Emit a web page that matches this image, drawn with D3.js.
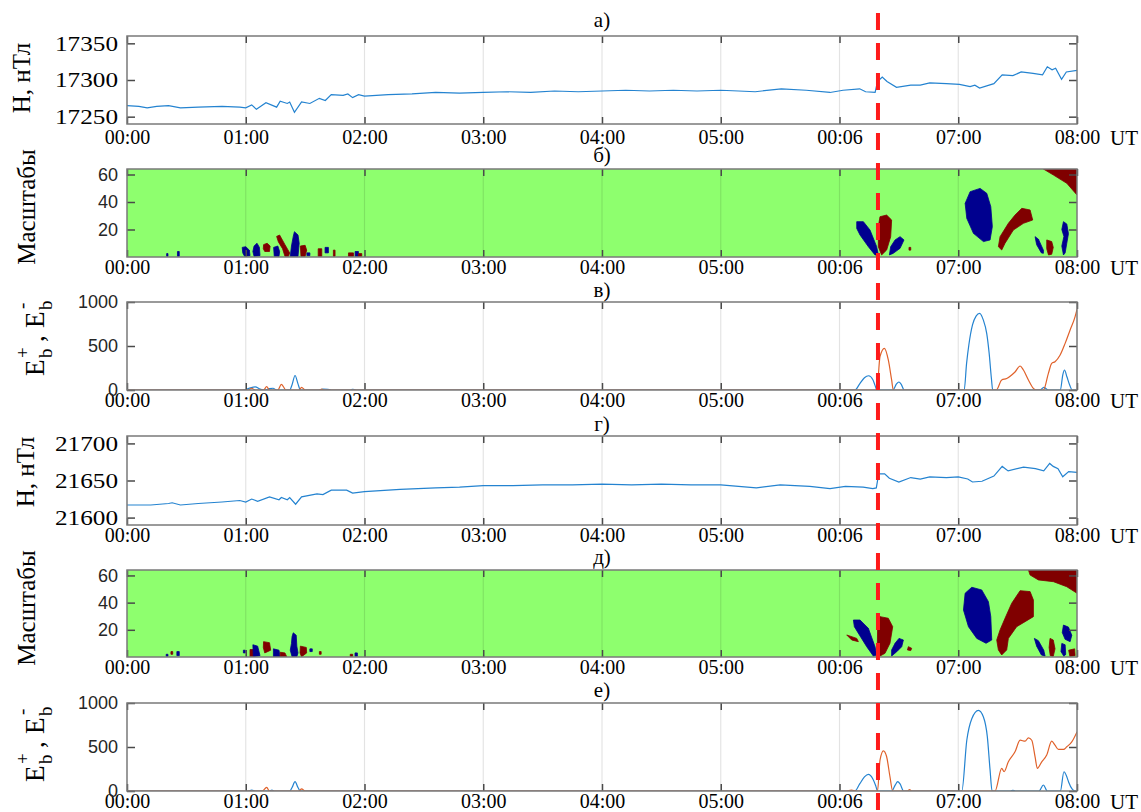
<!DOCTYPE html>
<html>
<head>
<meta charset="utf-8">
<script src="https://cdn.jsdelivr.net/npm/d3@7"></script>
<style>
  body { margin: 0; background: #fff; }
  svg { display: block; }
</style>
</head>
<body>
<svg id="chart" width="1141" height="812"></svg>
<script>
// ---- data ----
const hourTicks = [0, 1, 2, 3, 4, 5, 6, 7, 8];
const hourLabels = ["00:00", "01:00", "02:00", "03:00", "04:00", "05:00", "00:06", "07:00", "08:00"];
const panelTitles = ["а)", "б)", "в)", "г)", "д)", "е)"];
const eventTime = 6.324;

// H, station 1 (panel а)
const hA_t = [0, 0.1, 0.17, 0.25, 0.35, 0.45, 0.6, 0.8, 0.95, 1.0, 1.05, 1.09, 1.17, 1.26, 1.29, 1.35, 1.37, 1.41, 1.47, 1.54, 1.62, 1.67, 1.72, 1.82, 1.86, 1.9, 1.95, 2.0, 2.2, 2.4, 2.6, 2.8, 3.0, 3.2, 3.4, 3.6, 3.8, 4.0, 4.2, 4.4, 4.6, 4.8, 5.0, 5.15, 5.29, 5.51, 5.72, 5.92, 6.03, 6.17, 6.22, 6.3, 6.32, 6.36, 6.4, 6.48, 6.6, 6.68, 6.76, 6.9, 7.01, 7.1, 7.14, 7.18, 7.3, 7.37, 7.46, 7.53, 7.63, 7.71, 7.75, 7.79, 7.82, 7.87, 7.91, 8.0];
const hA_v = [17265, 17264, 17262, 17264, 17265, 17262, 17263, 17264, 17263, 17262, 17266, 17260, 17269, 17263, 17271, 17268, 17270, 17256, 17270, 17268, 17275, 17272, 17280, 17279, 17281, 17276, 17280, 17278, 17280, 17281, 17283, 17282, 17283, 17284, 17283, 17285, 17284, 17285, 17286, 17285, 17286, 17285, 17286, 17285, 17284, 17288, 17286, 17283, 17286, 17288, 17284, 17283, 17298, 17304, 17298, 17290, 17293, 17293, 17296, 17295, 17294, 17291, 17293, 17289, 17295, 17307, 17306, 17311, 17309, 17307, 17318, 17314, 17316, 17301, 17311, 17313];

// H, station 2 (panel г)
const hD_t = [0, 0.2, 0.35, 0.38, 0.45, 0.6, 0.8, 0.95, 1.0, 1.05, 1.1, 1.2, 1.28, 1.3, 1.35, 1.37, 1.42, 1.47, 1.6, 1.65, 1.72, 1.85, 1.9, 2.0, 2.3, 2.6, 2.8, 3.0, 3.25, 3.5, 3.75, 4.0, 4.25, 4.5, 4.75, 5.0, 5.3, 5.5, 5.75, 5.92, 6.05, 6.2, 6.28, 6.31, 6.33, 6.38, 6.42, 6.5, 6.6, 6.68, 6.76, 6.9, 7.0, 7.08, 7.12, 7.2, 7.3, 7.37, 7.42, 7.55, 7.65, 7.72, 7.77, 7.8, 7.84, 7.88, 7.93, 8.0];
const hD_v = [21617, 21617, 21619, 21620, 21617, 21619, 21621, 21623, 21621, 21625, 21622, 21628, 21624, 21627, 21624, 21627, 21618, 21628, 21632, 21631, 21637, 21637, 21633, 21635, 21638, 21640, 21641, 21643, 21643, 21644, 21644, 21645, 21644, 21645, 21644, 21644, 21640, 21644, 21642, 21639, 21642, 21641, 21639, 21640, 21659, 21659, 21653, 21648, 21654, 21652, 21655, 21654, 21655, 21652, 21648, 21649, 21656, 21669, 21663, 21668, 21666, 21663, 21673, 21669, 21666, 21655, 21662, 21661];

// E_b+ / E_b- , panel в  ([hour, value])
const ebPlusC = [[0, 0], [0.97, 0], [1.0, 5], [1.04, 25], [1.08, 35], [1.12, 10], [1.16, 0], [1.2, 15], [1.23, 20], [1.26, 0], [1.37, 0], [1.39, 60], [1.415, 165], [1.44, 70], [1.46, 0], [1.62, 0], [1.65, 10], [1.69, 8], [1.72, 0], [1.88, 0], [1.9, 8], [1.93, 0], [6.13, 0], [6.17, 70], [6.21, 140], [6.245, 162], [6.28, 120], [6.3, 50], [6.315, 0], [6.45, 0], [6.48, 70], [6.5, 91], [6.52, 65], [6.545, 0], [7.05, 0], [7.07, 300], [7.09, 520], [7.12, 740], [7.15, 840], [7.18, 871], [7.21, 800], [7.24, 640], [7.26, 420], [7.28, 120], [7.29, 0], [7.69, 0], [7.72, 30], [7.76, 0], [7.86, 0], [7.88, 170], [7.895, 227], [7.915, 150], [7.94, 50], [7.96, 0], [8, 0]];
const ebMinusC = [[0, 0], [1.02, 0], [1.05, 20], [1.08, 0], [1.15, 0], [1.176, 38], [1.2, 0], [1.27, 0], [1.3, 64], [1.34, 0], [1.45, 0], [1.47, 30], [1.5, 0], [1.62, 0], [1.64, 10], [1.66, 0], [6.315, 0], [6.341, 379], [6.378, 473], [6.411, 341], [6.439, 114], [6.453, 0], [7.32, 0], [7.366, 114], [7.408, 130], [7.45, 170], [7.478, 205], [7.521, 273], [7.549, 227], [7.591, 114], [7.633, 19], [7.66, 0], [7.717, 0], [7.759, 189], [7.787, 303], [7.815, 322], [7.858, 398], [7.9, 530], [7.942, 682], [7.984, 833], [8.0, 917]];

// E_b+ / E_b- , panel е
const ebPlusF = [[0, 0], [1.02, 0], [1.05, 10], [1.08, 0], [1.2, 0], [1.22, 10], [1.24, 0], [1.37, 0], [1.39, 40], [1.415, 106], [1.44, 40], [1.46, 0], [6.13, 0], [6.17, 80], [6.21, 160], [6.243, 189], [6.28, 140], [6.305, 60], [6.32, 0], [6.44, 0], [6.47, 70], [6.49, 106], [6.51, 80], [6.54, 0], [7.03, 0], [7.072, 577], [7.114, 822], [7.17, 917], [7.212, 841], [7.245, 615], [7.268, 238], [7.285, 0], [7.44, 0], [7.46, 8], [7.48, 0], [7.68, 0], [7.717, 68], [7.75, 0], [7.86, 0], [7.89, 219], [7.914, 162], [7.93, 100], [7.96, 20], [7.984, 0], [8, 0]];
const ebMinusF = [[0, 0], [1.14, 0], [1.176, 42], [1.2, 0], [1.45, 0], [1.47, 25], [1.5, 0], [6.06, 0], [6.1, 10], [6.14, 0], [6.32, 0], [6.341, 351], [6.37, 457], [6.397, 389], [6.425, 162], [6.448, 0], [6.57, 0], [6.59, 15], [6.61, 0], [7.31, 0], [7.366, 257], [7.386, 219], [7.422, 332], [7.478, 445], [7.521, 577], [7.563, 566], [7.591, 604], [7.619, 577], [7.647, 389], [7.666, 257], [7.703, 332], [7.745, 408], [7.787, 566], [7.815, 521], [7.844, 472], [7.886, 472], [7.914, 502], [7.956, 558], [8.0, 672]];

// scalogram sign regions ([hour, scale]); c = +1 red, -1 blue, rest is 0 (green)
const scalogramB = [
  { c: -1, p: [[0.334, 2.5], [0.345, 2.5], [0.345, 0.5], [0.334, 0.5]] },
  { c: -1, p: [[0.425, 4], [0.44, 4], [0.44, 0.5], [0.425, 0.5]] },
  { c: -1, p: [[0.97, 7], [1.0, 7.5], [1.03, 5], [1.036, 1], [0.99, 0.5], [0.975, 3]] },
  { c: -1, p: [[1.07, 8], [1.095, 10], [1.115, 7], [1.12, 1], [1.07, 0.5], [1.06, 4]] },
  { c: 1, p: [[1.15, 9], [1.18, 10], [1.205, 8], [1.2, 4], [1.16, 4], [1.148, 6]] },
  { c: -1, p: [[1.235, 7], [1.27, 8], [1.285, 4], [1.28, 0.5], [1.24, 0.5]] },
  { c: 1, p: [[1.26, 15], [1.285, 16], [1.33, 9], [1.37, 3], [1.36, 0.5], [1.33, 0.5], [1.31, 6], [1.275, 11]] },
  { c: -1, p: [[1.41, 18.4], [1.44, 16], [1.45, 10], [1.44, 0.5], [1.375, 0.5], [1.385, 8], [1.4, 15]] },
  { c: 1, p: [[1.46, 8], [1.5, 8.5], [1.513, 5], [1.5, 0.5], [1.465, 0.5]] },
  { c: -1, p: [[1.515, 3], [1.54, 3], [1.54, 1], [1.515, 1]] },
  { c: 1, p: [[1.61, 6], [1.64, 6], [1.64, 0.5], [1.61, 0.5]] },
  { c: -1, p: [[1.668, 7], [1.696, 7], [1.696, 3], [1.668, 3]] },
  { c: 1, p: [[1.738, 5], [1.752, 5], [1.752, 0.5], [1.738, 0.5]] },
  { c: 1, p: [[1.865, 3], [1.907, 3], [1.907, 0.5], [1.865, 0.5]] },
  { c: -1, p: [[1.921, 4], [1.949, 4], [1.949, 0.5], [1.921, 0.5]] },
  { c: 1, p: [[1.949, 2.5], [1.977, 2.5], [1.977, 0.5], [1.949, 0.5]] },
  { c: -1, p: [[6.145, 25.7], [6.201, 25.7], [6.257, 19.6], [6.313, 7.5], [6.327, 1.5], [6.299, 1.5], [6.243, 7.5], [6.173, 16.0], [6.145, 20.8]] },
  { c: 1, p: [[6.341, 29.3], [6.397, 30.5], [6.439, 26.9], [6.431, 14.8], [6.397, 5.1], [6.355, 1.5], [6.327, 7.5], [6.327, 22.1]] },
  { c: -1, p: [[6.51, 14.8], [6.543, 12.4], [6.51, 6.3], [6.453, 2.7], [6.42, 1.5], [6.431, 7.5], [6.468, 12.4]] },
  { c: 1, p: [[6.585, 7], [6.6, 7], [6.6, 5], [6.585, 5]] },
  { c: -1, p: [[7.184, 49.9], [7.24, 46.3], [7.274, 36.6], [7.287, 22.1], [7.268, 12.4], [7.212, 11.2], [7.128, 17.2], [7.072, 28.1], [7.058, 39.0], [7.1, 47.5]] },
  { c: 1, p: [[7.535, 35.4], [7.605, 34.2], [7.627, 26.9], [7.549, 24.5], [7.464, 19.6], [7.394, 10.0], [7.366, 5.1], [7.338, 7.5], [7.352, 14.8], [7.422, 24.5], [7.478, 30.5]] },
  { c: 1, p: [[7.717, 64], [8, 64], [8, 45.1], [7.914, 53.6], [7.802, 59.6]] },
  { c: -1, p: [[7.647, 14.8], [7.675, 13], [7.717, 5], [7.717, 2.7], [7.7, 3], [7.66, 9]] },
  { c: 1, p: [[7.745, 12.4], [7.787, 11.2], [7.8, 7], [7.787, 2], [7.76, 1.5], [7.745, 6]] },
  { c: -1, p: [[7.886, 25.7], [7.914, 24], [7.928, 17], [7.914, 10], [7.9, 3], [7.886, 1.5], [7.872, 8], [7.89, 15], [7.872, 20]] }
];
const scalogramE = [
  { c: -1, p: [[0.33, 2], [0.345, 2], [0.345, 0.5], [0.33, 0.5]] },
  { c: 1, p: [[0.37, 4], [0.385, 4], [0.385, 2], [0.37, 2]] },
  { c: -1, p: [[0.42, 4], [0.44, 4], [0.44, 1], [0.42, 1]] },
  { c: -1, p: [[0.98, 5], [0.995, 5], [0.995, 3], [0.98, 3]] },
  { c: 1, p: [[1.036, 5.5], [1.075, 5.5], [1.078, 0.2], [1.036, 0.2]] },
  { c: -1, p: [[1.06, 9], [1.1, 8], [1.12, 1], [1.064, 0.2]] },
  { c: 1, p: [[1.15, 11.3], [1.2, 10.5], [1.21, 5], [1.16, 3], [1.148, 7]] },
  { c: -1, p: [[1.233, 6], [1.28, 5], [1.289, 0.2], [1.233, 0.2]] },
  { c: 1, p: [[1.29, 3.5], [1.33, 3], [1.345, 0.2], [1.29, 0.2]] },
  { c: -1, p: [[1.4, 17.8], [1.425, 16], [1.43, 8], [1.44, 3], [1.43, 0.2], [1.39, 0.2], [1.375, 5], [1.385, 10], [1.39, 15]] },
  { c: 1, p: [[1.46, 8], [1.51, 7], [1.513, 3], [1.47, 0.2], [1.457, 3]] },
  { c: -1, p: [[1.54, 6], [1.56, 6], [1.56, 4], [1.54, 4]] },
  { c: 1, p: [[1.62, 4], [1.635, 4], [1.635, 2], [1.62, 2]] },
  { c: 1, p: [[1.88, 2], [1.9, 2], [1.9, 0.5], [1.88, 0.5]] },
  { c: -1, p: [[1.92, 3], [1.94, 3], [1.94, 0.5], [1.92, 0.5]] },
  { c: -1, p: [[6.117, 27.2], [6.173, 27.2], [6.243, 21.1], [6.299, 7.6], [6.313, 1.5], [6.285, 0.7], [6.229, 7.6], [6.168, 16.2], [6.125, 22.3]] },
  { c: 1, p: [[6.061, 16.2], [6.145, 13.7], [6.159, 11.3], [6.103, 12.5]] },
  { c: 1, p: [[6.341, 29.7], [6.411, 28.5], [6.448, 22.3], [6.425, 10.1], [6.383, 2.7], [6.341, 0.7], [6.319, 10.1], [6.321, 22.3]] },
  { c: -1, p: [[6.501, 13.7], [6.538, 12.5], [6.524, 7.6], [6.482, 3.9], [6.439, 0.7], [6.439, 5.2], [6.468, 10.1]] },
  { c: 1, p: [[6.58, 7.6], [6.608, 6.4], [6.6, 4.7], [6.572, 5.2]] },
  { c: -1, p: [[7.114, 51.3], [7.198, 49.3], [7.254, 40.7], [7.274, 29.7], [7.282, 12.5], [7.234, 10.1], [7.156, 13.7], [7.086, 22.3], [7.044, 34.6], [7.058, 46.9]] },
  { c: 1, p: [[7.521, 48.8], [7.605, 48.1], [7.633, 41.9], [7.633, 29.7], [7.563, 26.0], [7.492, 22.3], [7.422, 13.7], [7.408, 5.2], [7.366, 1.5], [7.338, 5.2], [7.324, 12.5], [7.352, 19.9], [7.394, 28.5], [7.45, 39.5]] },
  { c: 1, p: [[7.591, 64], [8, 64], [8, 46.9], [7.914, 51.7], [7.802, 55.4], [7.675, 56.7], [7.605, 60.3]] },
  { c: -1, p: [[7.641, 13.7], [7.675, 12], [7.72, 5], [7.731, 0.7], [7.7, 1.5], [7.66, 8]] },
  { c: 1, p: [[7.773, 13.7], [7.8, 12.5], [7.815, 6], [7.8, 0.5], [7.775, 1], [7.765, 7]] },
  { c: -1, p: [[7.886, 23.5], [7.928, 22], [7.956, 16], [7.942, 11.3], [7.9, 13], [7.876, 18]] },
  { c: -1, p: [[7.872, 10], [7.9, 9], [7.905, 2], [7.89, 0.5], [7.865, 4]] },
  { c: 1, p: [[7.93, 5], [7.98, 6], [7.984, 1], [7.94, 0.5]] }
];

// ---- drawing ----
const svg = d3.select("#chart");
const SERIF = "Liberation Serif, Times New Roman, serif";
const SANS = "Liberation Sans, Arial, sans-serif";
const BLUE = "#2483d0", ORANGE = "#e0612a";
const signColor = { "-1": "#00008f", "1": "#800000" };

const x = d3.scaleLinear().domain([0, 8]).range([127, 1077]);

let clipId = 0;

function frame(top, bottom, domain, yTicks, opts) {
  const y = d3.scaleLinear().domain(domain).range([bottom, top]);
  const g = svg.append("g");
  const id = "clip" + clipId++;
  g.append("clipPath").attr("id", id)
    .append("rect")
    .attr("x", x(0)).attr("y", top)
    .attr("width", x(8) - x(0)).attr("height", bottom - top);
  const body = g.append("g").attr("clip-path", `url(#${id})`);

  if (opts.bg) {
    body.append("rect")
      .attr("x", x(0)).attr("y", top)
      .attr("width", x(8) - x(0)).attr("height", bottom - top)
      .attr("fill", opts.bg);
  }
  const content = body.append("g");

  // vertical grid
  body.selectAll("line.grid")
    .data(hourTicks.slice(1, -1))
    .enter()
    .append("line")
    .attr("class", "grid")
    .attr("x1", (d) => x(d)).attr("x2", (d) => x(d))
    .attr("y1", top).attr("y2", bottom)
    .attr("stroke", "rgba(0,0,0,0.11)")
    .attr("stroke-width", 1.2);

  const lines = body.append("g");

  // x axis (bottom, labelled) and top ticks
  const xb = g.append("g")
    .attr("transform", `translate(0,${bottom})`)
    .call(d3.axisBottom(x).tickValues(hourTicks)
      .tickFormat((d, i) => hourLabels[i])
      .tickSizeInner(-7).tickSizeOuter(0).tickPadding(opts.xPad));
  xb.attr("font-family", SERIF).attr("font-size", 20);
  xb.select(".domain").remove();
  xb.selectAll("line").attr("stroke", "#4a4a4a").attr("stroke-width", 1.5);
  xb.selectAll("text")
    .attr("fill", "#000").attr("font-family", SERIF).attr("font-size", 20);

  const xt = g.append("g")
    .attr("transform", `translate(0,${top})`)
    .call(d3.axisTop(x).tickValues(hourTicks).tickFormat("")
      .tickSizeInner(-7).tickSizeOuter(0));
  xt.select(".domain").remove();
  xt.selectAll("line").attr("stroke", "#4a4a4a").attr("stroke-width", 1.5);

  // "UT"
  g.append("text")
    .attr("x", 1110).attr("y", bottom + opts.xPad).attr("dy", "0.71em")
    .attr("font-family", SERIF).attr("font-size", 21).attr("fill", "#000")
    .text("UT");

  // y axes
  const yl = g.append("g")
    .attr("transform", `translate(${x(0)},0)`)
    .call(d3.axisLeft(y).tickValues(yTicks).tickFormat(d3.format("d"))
      .tickSizeInner(-8).tickSizeOuter(0).tickPadding(9));
  const yFont = opts.serifY ? SERIF : SANS;
  const ySize = opts.serifY ? 21 : 18;
  yl.attr("font-family", yFont).attr("font-size", ySize);
  yl.select(".domain").remove();
  yl.selectAll("line").attr("stroke", "#4a4a4a").attr("stroke-width", 1.5);
  yl.selectAll("text")
    .attr("fill", opts.serifY ? "#000" : "#262626")
    .attr("font-family", yFont)
    .attr("font-size", ySize);
  if (opts.serifY) yl.selectAll("text").attr("textLength", 63).attr("lengthAdjust", "spacingAndGlyphs");

  const yr = g.append("g")
    .attr("transform", `translate(${x(8)},0)`)
    .call(d3.axisRight(y).tickValues(yTicks).tickFormat("").tickSizeInner(-8).tickSizeOuter(0));
  yr.select(".domain").remove();
  yr.selectAll("line").attr("stroke", "#4a4a4a").attr("stroke-width", 1.5);

  // box
  g.append("rect")
    .attr("x", x(0)).attr("y", top)
    .attr("width", x(8) - x(0)).attr("height", bottom - top)
    .attr("fill", "none").attr("stroke", "#7a7a7a").attr("stroke-width", 1.5);

  return { g, y, content, lines };
}

function drawSeries(p, ts, vs) {
  const pts = ts.map((t, i) => [t, vs[i]]);
  p.lines.append("path")
    .datum(pts)
    .attr("fill", "none")
    .attr("stroke", BLUE)
    .attr("stroke-width", 1.2)
    .attr("d", d3.line().x((d) => x(d[0])).y((d) => p.y(d[1])));
}

function drawEnergy(p, plus, minus) {
  const line = d3.line().x((d) => x(d[0])).y((d) => p.y(d[1])).curve(d3.curveMonotoneX);
  p.lines.append("path").datum(plus)
    .attr("fill", "none").attr("stroke", BLUE).attr("stroke-width", 1.2).attr("d", line);
  p.lines.append("path").datum(minus)
    .attr("fill", "none").attr("stroke", ORANGE).attr("stroke-width", 1.2).attr("d", line);
}

function drawScalogram(p, regions) {
  const area = d3.line().x((d) => x(d[0])).y((d) => p.y(d[1])).curve(d3.curveLinearClosed);
  p.content.selectAll("path.reg")
    .data(regions)
    .enter()
    .append("path")
    .attr("class", "reg")
    .attr("d", (d) => area(d.p))
    .attr("fill", (d) => signColor[d.c])
    .attr("stroke", (d) => signColor[d.c])
    .attr("stroke-width", 0.8);
}

// 1. panels
const pA = frame(36, 124, [17240, 17360], [17250, 17300, 17350], { serifY: true, xPad: 6 });
drawSeries(pA, hA_t, hA_v);

const pB = frame(169, 257, [0, 64], [20, 40, 60], { bg: "#8eff6e", xPad: 3 });
drawScalogram(pB, scalogramB);

const pC = frame(302, 390, [0, 1000], [0, 500, 1000], { xPad: 3 });
drawEnergy(pC, ebPlusC, ebMinusC);

const pD = frame(436, 525, [21590, 21710], [21600, 21650, 21700], { serifY: true, xPad: 3 });
drawSeries(pD, hD_t, hD_v);

const pE = frame(570, 657, [0, 64], [20, 40, 60], { bg: "#8eff6e", xPad: 3 });
drawScalogram(pE, scalogramE);

const pF = frame(703, 791, [0, 1000], [0, 500, 1000], { xPad: 3 });
drawEnergy(pF, ebPlusF, ebMinusF);

// 2. panel titles
const titleY = [27, 162, 297, 431, 564, 697];
svg.selectAll("text.ptitle")
  .data(panelTitles)
  .enter()
  .append("text")
  .attr("class", "ptitle")
  .attr("x", 602)
  .attr("y", (d, i) => titleY[i])
  .attr("text-anchor", "middle")
  .attr("font-family", SERIF)
  .attr("font-size", 21)
  .attr("fill", "#000")
  .text((d) => d);

// 3. y-axis titles
function yTitle(text, bx, cy) {
  svg.append("text")
    .attr("transform", `translate(${bx},${cy}) rotate(-90)`)
    .attr("text-anchor", "middle")
    .attr("font-family", SERIF)
    .attr("font-size", 25)
    .attr("fill", "#000")
    .text(text);
}
yTitle("H, нТл", 30, 78);
yTitle("Масштабы", 35, 207);
yTitle("H, нТл", 34, 472);
yTitle("Масштабы", 35, 608);

function ebTitle(cy) {
  const g = svg.append("g")
    .attr("transform", `translate(0,${cy}) rotate(-90)`)
    .attr("font-family", SERIF)
    .attr("fill", "#000");
  g.append("text").attr("x", -42).attr("y", 44).attr("font-size", 27).text("E");
  g.append("text").attr("x", -24).attr("y", 29).attr("font-size", 19).text("+");
  g.append("text").attr("x", -24).attr("y", 52).attr("font-size", 19).text("b");
  g.append("text").attr("x", -8).attr("y", 44).attr("font-size", 27).text(",");
  g.append("text").attr("x", 6).attr("y", 44).attr("font-size", 27).text("E");
  g.append("text").attr("x", 25).attr("y", 28).attr("font-size", 19).text("-");
  g.append("text").attr("x", 24).attr("y", 52).attr("font-size", 19).text("b");
}
ebTitle(334);
ebTitle(740);

// 4. event marker
svg.append("line")
  .attr("x1", x(eventTime)).attr("x2", x(eventTime))
  .attr("y1", 13).attr("y2", 812)
  .attr("stroke", "#ff1a1a")
  .attr("stroke-width", 4)
  .attr("stroke-dasharray", "17,13");
</script>
</body>
</html>
